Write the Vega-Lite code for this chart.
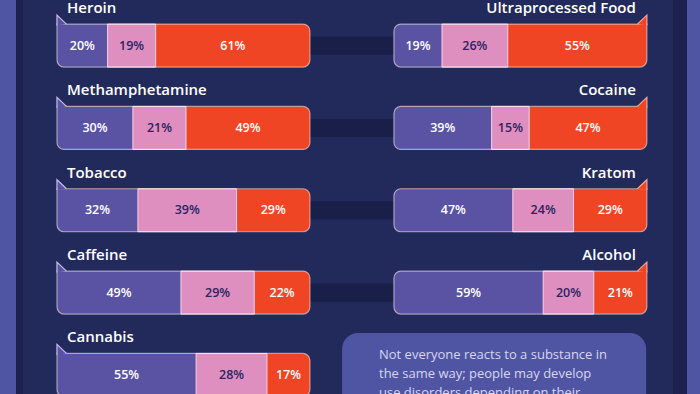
{
  "$schema": "https://vega.github.io/schema/vega-lite/v6.json",
  "width": 700,
  "height": 394,
  "padding": 0,
  "autosize": {"type": "fit", "contains": "padding"},
  "background": "#222a5c",
  "config": {"view": {"stroke": null}, "axis": null},
  "data": {
    "values": [
      {"side": "left", "row": 0, "substance": "Heroin", "seg": "a", "pct": 20},
      {"side": "left", "row": 0, "substance": "Heroin", "seg": "b", "pct": 19},
      {"side": "left", "row": 0, "substance": "Heroin", "seg": "c", "pct": 61},
      {"side": "left", "row": 1, "substance": "Methamphetamine", "seg": "a", "pct": 30},
      {"side": "left", "row": 1, "substance": "Methamphetamine", "seg": "b", "pct": 21},
      {"side": "left", "row": 1, "substance": "Methamphetamine", "seg": "c", "pct": 49},
      {"side": "left", "row": 2, "substance": "Tobacco", "seg": "a", "pct": 32},
      {"side": "left", "row": 2, "substance": "Tobacco", "seg": "b", "pct": 39},
      {"side": "left", "row": 2, "substance": "Tobacco", "seg": "c", "pct": 29},
      {"side": "left", "row": 3, "substance": "Caffeine", "seg": "a", "pct": 49},
      {"side": "left", "row": 3, "substance": "Caffeine", "seg": "b", "pct": 29},
      {"side": "left", "row": 3, "substance": "Caffeine", "seg": "c", "pct": 22},
      {"side": "left", "row": 4, "substance": "Cannabis", "seg": "a", "pct": 55},
      {"side": "left", "row": 4, "substance": "Cannabis", "seg": "b", "pct": 28},
      {"side": "left", "row": 4, "substance": "Cannabis", "seg": "c", "pct": 17},
      {"side": "right", "row": 0, "substance": "Ultraprocessed Food", "seg": "a", "pct": 19},
      {"side": "right", "row": 0, "substance": "Ultraprocessed Food", "seg": "b", "pct": 26},
      {"side": "right", "row": 0, "substance": "Ultraprocessed Food", "seg": "c", "pct": 55},
      {"side": "right", "row": 1, "substance": "Cocaine", "seg": "a", "pct": 39},
      {"side": "right", "row": 1, "substance": "Cocaine", "seg": "b", "pct": 15},
      {"side": "right", "row": 1, "substance": "Cocaine", "seg": "c", "pct": 47},
      {"side": "right", "row": 2, "substance": "Kratom", "seg": "a", "pct": 47},
      {"side": "right", "row": 2, "substance": "Kratom", "seg": "b", "pct": 24},
      {"side": "right", "row": 2, "substance": "Kratom", "seg": "c", "pct": 29},
      {"side": "right", "row": 3, "substance": "Alcohol", "seg": "a", "pct": 59},
      {"side": "right", "row": 3, "substance": "Alcohol", "seg": "b", "pct": 20},
      {"side": "right", "row": 3, "substance": "Alcohol", "seg": "c", "pct": 21}
    ]
  },
  "transform": [
    {"stack": "pct", "groupby": ["substance"], "sort": [{"field": "seg", "order": "ascending"}], "offset": "normalize", "as": ["s0", "s1"]},
    {"calculate": "datum.side == 'left' ? 0 : 133.2", "as": "off"},
    {"calculate": "datum.off + 100 * datum.s0", "as": "x0"},
    {"calculate": "datum.off + 100 * datum.s1", "as": "x1"},
    {"calculate": "(datum.x0 + datum.x1) / 2", "as": "xm"},
    {"calculate": "datum.row - 0.2611", "as": "yt"},
    {"calculate": "datum.row + 0.2611", "as": "yb"},
    {"calculate": "datum.pct + '%'", "as": "label"}
  ],
  "layer": [
    {
      "data": {"values": [{}]},
      "mark": {"type": "rect", "color": "#4f55a3"},
      "encoding": {
        "x": {"datum": -22.53, "type": "quantitative", "scale": {"domain": [-22.53, 254.2], "nice": false, "zero": false}, "axis": null},
        "x2": {"datum": -16.2},
        "y": {"datum": -0.5539, "type": "quantitative", "scale": {"domain": [-0.5539, 4.2317], "nice": false, "zero": false, "reverse": true}, "axis": null},
        "y2": {"datum": 4.2317}
      }
    },
    {
      "data": {"values": [{}]},
      "mark": {"type": "rect", "color": "#1c2150"},
      "encoding": {
        "x": {"datum": -16.2, "type": "quantitative"},
        "x2": {"datum": -13.44},
        "y": {"datum": -0.5539, "type": "quantitative"},
        "y2": {"datum": 4.2317}
      }
    },
    {
      "data": {"values": [{}]},
      "mark": {"type": "rect", "color": "#1c2150"},
      "encoding": {
        "x": {"datum": 243.53, "type": "quantitative"},
        "x2": {"datum": 249.07},
        "y": {"datum": -0.5539, "type": "quantitative"},
        "y2": {"datum": 4.2317}
      }
    },
    {
      "data": {"values": [{}]},
      "mark": {"type": "rect", "color": "#4f55a3"},
      "encoding": {
        "x": {"datum": 249.07, "type": "quantitative"},
        "x2": {"datum": 254.2},
        "y": {"datum": -0.5539, "type": "quantitative"},
        "y2": {"datum": 4.2317}
      }
    },
    {
      "transform": [{"filter": "datum.side == 'left' && datum.seg == 'a' && datum.row < 4"}, {"calculate": "datum.row - 0.11", "as": "ct"}, {"calculate": "datum.row + 0.11", "as": "cb"}],
      "mark": {"type": "rect", "color": "#1a1f49"},
      "encoding": {
        "x": {"datum": 95, "type": "quantitative"},
        "x2": {"datum": 138},
        "y": {"field": "ct", "type": "quantitative"},
        "y2": {"field": "cb"}
      }
    },
    {
      "transform": [{"filter": "datum.side == 'left' && datum.seg == 'c'"}],
      "mark": {"type": "rect", "color": "#ef4524", "clip": true, "cornerRadiusTopRight": 7, "cornerRadiusBottomRight": 7, "cornerRadiusBottomLeft": 7},
      "encoding": {
        "x": {"field": "off", "type": "quantitative"},
        "x2": {"field": "x1"},
        "y": {"field": "yt", "type": "quantitative"},
        "y2": {"field": "yb"}
      }
    },
    {
      "transform": [{"filter": "datum.side == 'right' && datum.seg == 'c'"}],
      "mark": {"type": "rect", "color": "#ef4524", "cornerRadiusTopLeft": 7, "cornerRadiusBottomRight": 7, "cornerRadiusBottomLeft": 7},
      "encoding": {
        "x": {"field": "off", "type": "quantitative"},
        "x2": {"field": "x1"},
        "y": {"field": "yt", "type": "quantitative"},
        "y2": {"field": "yb"}
      }
    },
    {
      "transform": [{"filter": "datum.side == 'left' && datum.seg == 'a'"}],
      "mark": {"type": "rect", "color": "#5a53a3", "clip": true, "cornerRadiusBottomLeft": 7},
      "encoding": {
        "x": {"field": "x0", "type": "quantitative"},
        "x2": {"field": "x1"},
        "y": {"field": "yt", "type": "quantitative"},
        "y2": {"field": "yb"}
      }
    },
    {
      "transform": [{"filter": "datum.side == 'right' && datum.seg == 'a'"}],
      "mark": {"type": "rect", "color": "#5a53a3", "cornerRadiusBottomLeft": 7, "cornerRadiusTopLeft": 7},
      "encoding": {
        "x": {"field": "x0", "type": "quantitative"},
        "x2": {"field": "x1"},
        "y": {"field": "yt", "type": "quantitative"},
        "y2": {"field": "yb"}
      }
    },
    {
      "transform": [{"filter": "datum.seg == 'b'"}],
      "mark": {"type": "rect", "color": "#de8fc0", "clip": true, "stroke": "#f3d3e6", "strokeWidth": 1},
      "encoding": {
        "x": {"field": "x0", "type": "quantitative"},
        "x2": {"field": "x1"},
        "y": {"field": "yt", "type": "quantitative"},
        "y2": {"field": "yb"}
      }
    },
    {
      "transform": [{"filter": "datum.side == 'left' && datum.seg == 'c'"}],
      "mark": {"type": "rect", "clip": true, "fill": null, "fillOpacity": 0, "stroke": "#ffffff", "strokeOpacity": 0.5, "strokeWidth": 1.2, "cornerRadiusTopRight": 7, "cornerRadiusBottomRight": 7, "cornerRadiusBottomLeft": 7},
      "encoding": {
        "x": {"field": "off", "type": "quantitative"},
        "x2": {"field": "x1"},
        "y": {"field": "yt", "type": "quantitative"},
        "y2": {"field": "yb"}
      }
    },
    {
      "transform": [{"filter": "datum.side == 'right' && datum.seg == 'c'"}],
      "mark": {"type": "rect", "fill": null, "fillOpacity": 0, "stroke": "#ffffff", "strokeOpacity": 0.5, "strokeWidth": 1.2, "cornerRadiusTopLeft": 7, "cornerRadiusBottomRight": 7, "cornerRadiusBottomLeft": 7},
      "encoding": {
        "x": {"field": "off", "type": "quantitative"},
        "x2": {"field": "x1"},
        "y": {"field": "yt", "type": "quantitative"},
        "y2": {"field": "yb"}
      }
    },
    {
      "transform": [{"filter": "datum.side == 'left' && datum.seg == 'a'"}],
      "mark": {"type": "point", "shape": "M0,0.15L0,-1L1.05,0", "size": 324, "filled": true, "fill": "#5a53a3", "opacity": 1, "stroke": "#c8bdea", "strokeWidth": 1.2},
      "encoding": {
        "x": {"field": "off", "type": "quantitative"},
        "y": {"field": "yt", "type": "quantitative"}
      }
    },
    {
      "transform": [{"filter": "datum.side == 'right' && datum.seg == 'c'"}],
      "mark": {"type": "point", "shape": "M0,0.15L0,-1L-1.05,0", "size": 324, "filled": true, "fill": "#ef4524", "opacity": 1, "stroke": "#f7a592", "strokeWidth": 1.2},
      "encoding": {
        "x": {"field": "x1", "type": "quantitative"},
        "y": {"field": "yt", "type": "quantitative"}
      }
    },
    {
      "transform": [{"filter": "datum.side == 'left' && datum.seg == 'a'"}],
      "mark": {"type": "text", "align": "left", "baseline": "middle", "dx": 10, "dy": -16, "font": "Open Sans", "fontWeight": 600, "fontSize": 15, "color": "#ffffff"},
      "encoding": {
        "x": {"field": "off", "type": "quantitative"},
        "y": {"field": "yt", "type": "quantitative"},
        "text": {"field": "substance"}
      }
    },
    {
      "transform": [{"filter": "datum.side == 'right' && datum.seg == 'c'"}],
      "mark": {"type": "text", "align": "right", "baseline": "middle", "dx": -11, "dy": -16, "font": "Open Sans", "fontWeight": 600, "fontSize": 15, "color": "#ffffff"},
      "encoding": {
        "x": {"field": "x1", "type": "quantitative"},
        "y": {"field": "yt", "type": "quantitative"},
        "text": {"field": "substance"}
      }
    },
    {
      "mark": {"type": "text", "align": "center", "baseline": "middle", "font": "Open Sans", "fontWeight": 600, "fontSize": 12.5},
      "encoding": {
        "x": {"field": "xm", "type": "quantitative"},
        "y": {"field": "row", "type": "quantitative"},
        "text": {"field": "label"},
        "color": {"condition": {"test": "datum.seg == 'b'", "value": "#2b2461"}, "value": "#ffffff"}
      }
    },
    {
      "data": {"values": [{}]},
      "mark": {"type": "rect", "color": "#4f55a3", "cornerRadius": 16, "clip": true},
      "encoding": {
        "x": {"datum": 112.7, "type": "quantitative"},
        "x2": {"datum": 232.9},
        "y": {"datum": 3.491, "type": "quantitative"},
        "y2": {"datum": 4.6}
      }
    },
    {
      "data": {"values": [{"note": ["Not everyone reacts to a substance in", "the same way; people may develop", "use disorders depending on their"]}]},
      "mark": {"type": "text", "align": "left", "baseline": "alphabetic", "font": "Open Sans", "fontSize": 13, "lineHeight": 18.8, "color": "#d8d6f2", "clip": true},
      "encoding": {
        "x": {"datum": 127.3, "type": "quantitative"},
        "y": {"datum": 3.807, "type": "quantitative"},
        "text": {"field": "note"}
      }
    }
  ]
}
